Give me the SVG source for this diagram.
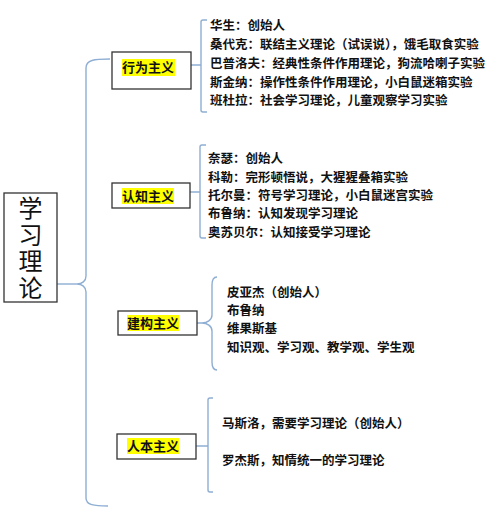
<svg xmlns="http://www.w3.org/2000/svg" width="499" height="510" viewBox="0 0 499 510">
<style>
.box{fill:#fff;stroke:#333;stroke-width:1.3}
.hl{fill:#ffff00}
.cat{font-family:"Noto Sans CJK SC","Noto Sans",sans-serif;font-size:13px;font-weight:bold;fill:#111}
.item{font-family:"Noto Sans CJK SC","Noto Sans",sans-serif;font-size:12.5px;font-weight:bold;fill:#111}
.root{font-family:"Noto Sans CJK SC","Noto Sans",sans-serif;font-size:24px;fill:#111;writing-mode:vertical-rl;letter-spacing:2.5px}
.con{fill:none;stroke:#8eaed3;stroke-width:1.4}
</style>
<rect width="499" height="510" fill="#fff"/>
<g id="connectors">
<path class="con" d="M57,284 L77,284"/>
<path class="con" d="M110,59 C94,59 86,60 86,68 L86,276 C86,281 82,284 77,284 C82,284 86,287 86,292 L86,498 C86,505 94,506 108,506"/>
<path class="con" d="M191,65 L201,65 M207,20 L203,20 Q201,20 201,22 L201,110 Q201,112 203,112 L207,112"/>
<path class="con" d="M190,192 L200,192 M206,145 L202,145 Q200,145 200,147 L200,236 Q200,238 202,238 L206,238"/>
<path class="con" d="M197,323 L202,323 M217,277 C213,277 212,280 212,285 L212,315 C212,320 207,323 202,323 C207,323 212,326 212,331 L212,362 C212,367 213,370 217,370"/>
<path class="con" d="M196,446 L208,446 M213,398 L210,398 Q208,398 208,400 L208,490 Q208,492 210,492 L213,492"/>
</g>
<g id="root">
<rect class="box" x="4" y="193" width="53" height="109"/>
<text class="root" x="30.5" y="196">学习理论</text>
</g>
<g id="behaviorism">
<rect class="box" x="112" y="52" width="79" height="37"/>
<rect class="hl" x="122" y="59" width="53" height="17"/>
<text class="cat" x="122" y="72">行为主义</text>
</g>
<g id="behaviorism-items">
<text class="item" x="210" y="29.5">华生：创始人</text>
<text class="item" x="210" y="48.5">桑代克：联结主义理论（试误说），饿毛取食实验</text>
<text class="item" x="210" y="67.5">巴普洛夫：经典性条件作用理论，狗流哈喇子实验</text>
<text class="item" x="210" y="86.5">斯金纳：操作性条件作用理论，小白鼠迷箱实验</text>
<text class="item" x="210" y="104.5">班杜拉：社会学习理论，儿童观察学习实验</text>
</g>
<g id="cognitivism">
<rect class="box" x="112" y="183" width="78" height="25"/>
<rect class="hl" x="122" y="188" width="52" height="16"/>
<text class="cat" x="122" y="201">认知主义</text>
</g>
<g id="cognitivism-items">
<text class="item" x="208" y="162.6">奈瑟：创始人</text>
<text class="item" x="208" y="181.6">科勒：完形顿悟说，大猩猩叠箱实验</text>
<text class="item" x="208" y="199.6">托尔曼：符号学习理论，小白鼠迷宫实验</text>
<text class="item" x="208" y="217.6">布鲁纳：认知发现学习理论</text>
<text class="item" x="208" y="236.6">奥苏贝尔：认知接受学习理论</text>
</g>
<g id="constructivism">
<rect class="box" x="118" y="311" width="79" height="24"/>
<rect class="hl" x="127" y="315" width="52" height="16"/>
<text class="cat" x="127" y="328">建构主义</text>
</g>
<g id="constructivism-items">
<text class="item" x="227" y="296.6">皮亚杰（创始人）</text>
<text class="item" x="227" y="314.6">布鲁纳</text>
<text class="item" x="227" y="332.6">维果斯基</text>
<text class="item" x="227" y="351.6">知识观、学习观、教学观、学生观</text>
</g>
<g id="humanism">
<rect class="box" x="117" y="434" width="79" height="25"/>
<rect class="hl" x="127" y="438" width="52" height="16"/>
<text class="cat" x="127" y="451">人本主义</text>
</g>
<g id="humanism-items">
<text class="item" x="222" y="427.6">马斯洛，需要学习理论（创始人）</text>
<text class="item" x="222" y="464.6">罗杰斯，知情统一的学习理论</text>
</g>
</svg>
